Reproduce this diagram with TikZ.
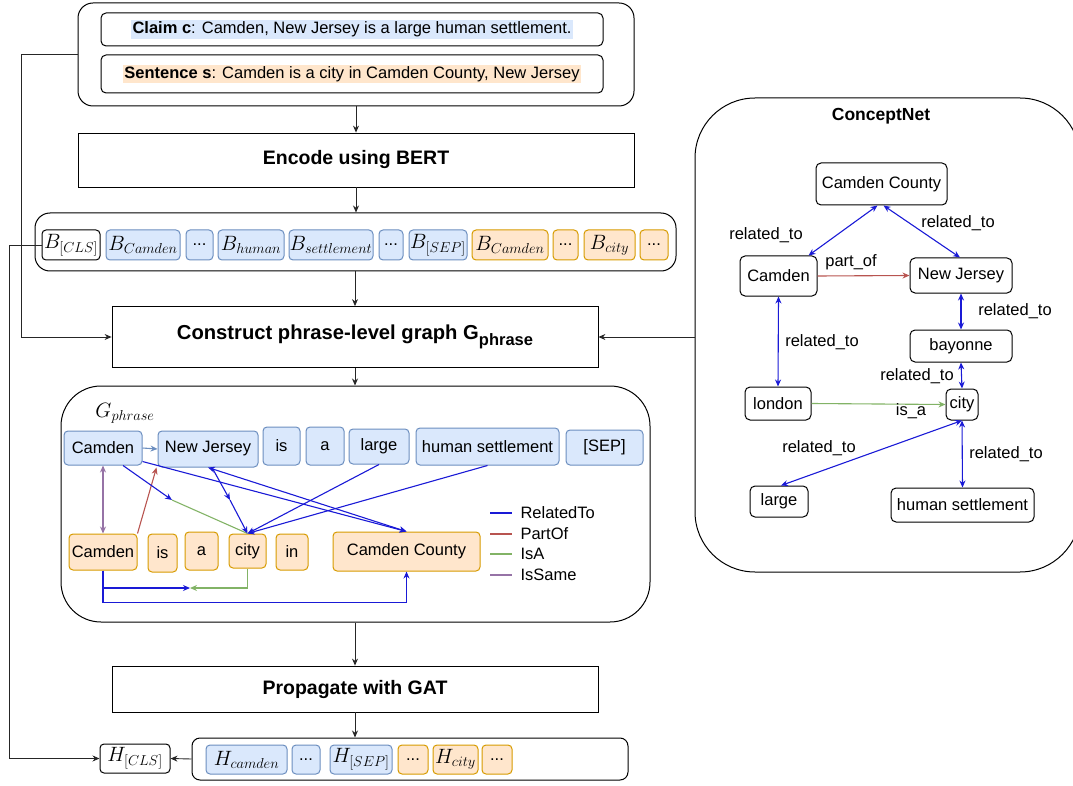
\documentclass[tikz,border=0pt]{standalone}
\usepackage{fontspec}
\setmainfont{Liberation Sans}
\usetikzlibrary{arrows.meta}

\definecolor{blueFill}{HTML}{DAE8FC}
\definecolor{blueDraw}{HTML}{6C8EBF}
\definecolor{orangeFill}{HTML}{FFE6CC}
\definecolor{orangeDraw}{HTML}{D79B00}
\definecolor{relBlue}{HTML}{1A1AD6}
\definecolor{partRed}{HTML}{B85450}
\definecolor{isaGreen}{HTML}{82B366}
\definecolor{sameViolet}{HTML}{9673A6}

\begin{document}
\begin{tikzpicture}[x=1pt, y=-1pt,
    >={Stealth[length=7pt,width=6pt]},
    every node/.style={inner sep=0pt, font=\fontsize{16.5}{19}\selectfont},
    sz/.style 2 args={minimum width=#1, minimum height=#2},
    outer/.style={draw, rounded corners=15pt, line width=1pt},
    stage/.style={draw, line width=0.8pt, font=\bfseries\fontsize{19.5}{23}\selectfont},
    txtbox/.style={draw, rounded corners=5pt, line width=1pt},
    mtok/.style={rounded corners=4pt, line width=1pt, font=\fontsize{22}{26}\selectfont},
    wtok/.style={draw, mtok},
    ctok/.style={draw=blueDraw, fill=blueFill, rounded corners=4pt, line width=1pt},
    stok/.style={draw=orangeDraw, fill=orangeFill, rounded corners=4pt, line width=1pt},
    cnode/.style={draw, fill=white, rounded corners=5pt, line width=1pt},
    flow/.style={draw=black!85, line width=0.9pt},
    rel/.style={draw=relBlue, line width=1.1pt},
    partof/.style={draw=partRed, line width=1.1pt},
    isa/.style={draw=isaGreen, line width=1.1pt},
    same/.style={draw=sameViolet, line width=1.1pt}]
    \useasboundingbox (0,0) rectangle (1073,786);
    \setlength{\fboxsep}{1.5pt}

    % Input claim and sentence
    \node[outer, sz={556}{103}] (input) at (356,54.5) {};
    \node[txtbox, sz={502}{33}] (claim) at (352,29.5)
        {\colorbox{blueFill}{\textbf{Claim c}: Camden, New Jersey is a large human settlement.}};
    \node[txtbox, sz={502}{38}] (sentence) at (352,74)
        {\colorbox{orangeFill}{\textbf{Sentence s}: Camden is a city in Camden County, New Jersey}};

    % Encoder
    \node[stage, sz={556}{54}] (encode) at (356,160) {Encode using BERT};

    % BERT token outputs
    \node[outer, sz={641}{58}] (brow) at (355.5,242) {};
    \node[wtok, sz={58}{30}] (bcls) at (71,245) {$B_{[CLS]}$};
    \node[ctok, mtok, sz={74}{30}] (bcam) at (143,245) {$B_{Camden}$};
    \node[ctok, sz={27}{30}] (bdotsA) at (199.5,245) {...};
    \node[ctok, mtok, sz={66}{30}] (bhum) at (251,245) {$B_{human}$};
    \node[ctok, mtok, sz={84}{30}] (bset) at (331,245) {$B_{settlement}$};
    \node[ctok, sz={24}{30}] (bdotsB) at (391,245) {...};
    \node[ctok, mtok, sz={58}{30}] (bsep) at (438,245) {$B_{[SEP]}$};
    \node[stok, mtok, sz={76}{30}] (bcamS) at (510,245) {$B_{Camden}$};
    \node[stok, sz={25}{30}] (bdotsC) at (565.5,245) {...};
    \node[stok, mtok, sz={51}{30}] (bcity) at (609.5,245) {$B_{city}$};
    \node[stok, sz={28}{30}] (bdotsD) at (654,245) {...};

    % Graph construction
    \node[stage, sz={486}{61}, font=\bfseries\fontsize{20.2}{24}\selectfont] (construct) at (355,337)
        {Construct phrase-level graph G\raisebox{-0.5ex}{\fontsize{16.5}{17}\selectfont phrase}};

    % Phrase-level graph
    \node[draw, rounded corners=40pt, line width=1pt, sz={589}{236}] (gbox) at (355.5,504) {};
    \node[font=\fontsize{22}{26}\selectfont] (glabel) at (125,413) {$G_{phrase}$};
    \node[ctok, sz={78}{34}] (tCam) at (103,448) {Camden};
    \node[ctok, sz={100}{36}] (tNJ) at (208,449) {New Jersey};
    \node[ctok, sz={37}{38}] (tIs) at (281.5,446) {is};
    \node[ctok, sz={38}{38}] (tA) at (325,446) {a};
    \node[ctok, sz={60}{35}] (tLarge) at (379,446.5) {large};
    \node[ctok, sz={143}{37}] (tHS) at (487.5,446.5) {human settlement};
    \node[ctok, sz={77}{35}] (tSep) at (604.5,447.5) {[SEP]};
    \node[stok, sz={68}{36}] (sCam) at (103,552) {Camden};
    \node[stok, sz={29}{38}] (sIs) at (162.5,553) {is};
    \node[stok, sz={33}{38}] (sA) at (201.5,551) {a};
    \node[stok, sz={37}{34}] (sCity) at (247.5,551) {city};
    \node[stok, sz={32}{36}] (sIn) at (292,552) {in};
    \node[stok, sz={147}{39}] (sCC) at (406.5,551.5) {Camden County};

    \coordinate (isaMid) at (172,500);
    \coordinate (njMid) at (230,500);
    \coordinate (meet) at (190,588);
    \draw[blueDraw, line width=1.1pt, ->] (tCam.east) -- (tNJ.west);
    \draw[same, <->] (tCam.south) -- (sCam.north);
    \draw[partof, ->] (sCam.north east) -- ([xshift=-1pt]tNJ.south west);
    \draw[rel, ->] ([xshift=20pt]tCam.south) -- (isaMid);
    \draw[isa] (isaMid) -- (sCity.north);
    \draw[rel, ->] ([xshift=4pt]tNJ.south) -- (njMid);
    \draw[rel, ->] (njMid) -- (sCity.north);
    \draw[rel, <->] (tNJ.south) -- (sCC.north);
    \draw[rel, ->] ([yshift=4pt]tCam.south east) -- (sCC.north);
    \draw[rel, ->] (tLarge.south) -- (sCity.north);
    \draw[rel, ->] (tHS.south) -- (sCity.north);
    \draw[rel, ->] (sCam.south) |- (meet);
    \draw[isa, ->] (sCity.south) |- (meet);
    \draw[rel, ->] (sCam.south) -- ++(0,32) -| (sCC.south);

    % Legend
    \draw[rel] (490,513) -- (512,513) node[right=8pt] (legRel) {RelatedTo};
    \draw[partof] (490,534) -- (512,534) node[right=8pt] (legPart) {PartOf};
    \draw[isa] (490,554) -- (512,554) node[right=8pt] (legIsa) {IsA};
    \draw[same] (490,575) -- (512,575) node[right=8pt] (legSame) {IsSame};

    % GAT and outputs
    \node[stage, sz={486}{46}] (gat) at (355,689) {Propagate with GAT};
    \node[outer, rounded corners=8pt, sz={436}{42}] (hrow) at (410,759) {};
    \node[wtok, sz={70}{29}] (hcls) at (135,758.5) {$H_{[CLS]}$};
    \node[ctok, mtok, sz={81}{29}] (hcam) at (246.5,759.5) {$H_{camden}$};
    \node[ctok, sz={28}{29}] (hdotsA) at (306,759.5) {...};
    \node[ctok, mtok, sz={62}{29}] (hsep) at (361,759.5) {$H_{[SEP]}$};
    \node[stok, sz={30}{29}] (hdotsB) at (413,759.5) {...};
    \node[stok, mtok, sz={45}{29}] (hcity) at (455.5,759.5) {$H_{city}$};
    \node[stok, sz={30}{29}] (hdotsC) at (497,759.5) {...};

    % ConceptNet
    \node[draw, rounded corners=60pt, line width=1pt, sz={385}{474}] (cnet) at (887.5,335) {};
    \node[font=\bfseries\fontsize{17.5}{21}\selectfont] (cnetTitle) at (881,116) {ConceptNet};
    \node[cnode, sz={131}{42}] (cCC) at (881.5,184) {Camden County};
    \node[cnode, sz={77}{40}] (cCam) at (778.5,276) {Camden};
    \node[cnode, sz={102}{35}] (cNJ) at (961,275.5) {New Jersey};
    \node[cnode, sz={102}{32}] (cBay) at (961,346) {bayonne};
    \node[cnode, sz={66}{33}] (cLon) at (778,403.5) {london};
    \node[cnode, sz={32}{31}] (cCity) at (962,404.5) {city};
    \node[cnode, sz={58}{31}] (cLarge) at (779,501.5) {large};
    \node[cnode, sz={143}{34}] (cHS) at (962.5,505) {human settlement};

    \draw[rel, <->] ([xshift=-4pt]cCC.south) -- ([xshift=30pt]cCam.north);
    \draw[rel, <->] ([xshift=2pt]cCC.south) -- ([xshift=-1pt]cNJ.north);
    \draw[partof, ->] (cCam.east) -- (cNJ.west);
    \draw[rel, <->] (cNJ.south) -- (cBay.north);
    \draw[rel, <->] (cCam.south) -- (cLon.north);
    \draw[rel, <->] (cBay.south) -- (cCity.north);
    \draw[isa, ->] (cLon.east) -- (cCity.west);
    \draw[rel, <->] (cCity.south) -- ([xshift=2pt]cLarge.north);
    \draw[rel, <->] (cCity.south) -- (cHS.north);
    \node (lblA) at (766,235) {related\_to};
    \node (lblB) at (958,223) {related\_to};
    \node (lblPart) at (851,262) {part\_of};
    \node (lblC) at (1015,311) {related\_to};
    \node (lblD) at (822,342) {related\_to};
    \node (lblE) at (917,376) {related\_to};
    \node (lblIsa) at (911,411) {is\_a};
    \node (lblF) at (819,448) {related\_to};
    \node (lblG) at (1006,454) {related\_to};

    % Pipeline flow
    \draw[flow, ->] (input.south) -- (encode.north);
    \draw[flow, ->] (encode.south) -- (brow.north -| encode.south);
    \draw[flow, ->] (brow.south -| construct.north) -- (construct.north);
    \draw[flow, ->] (construct.south) -- (gbox.north -| construct.south);
    \draw[flow, ->] (gbox.south -| gat.north) -- (gat.north);
    \draw[flow, ->] (gat.south) -- (hrow.north -| gat.south);
    \draw[flow, ->] (hrow.west) -- (hcls.east);
    \draw[flow, ->] (input.west) -- ++(-56,0) |- (construct.west);
    \draw[flow, ->] (bcls.west) -- ++(-32,0) |- (hcls.west);
    \draw[flow, ->] (cnet.west |- construct.east) -- (construct.east);
\end{tikzpicture}
\end{document}
